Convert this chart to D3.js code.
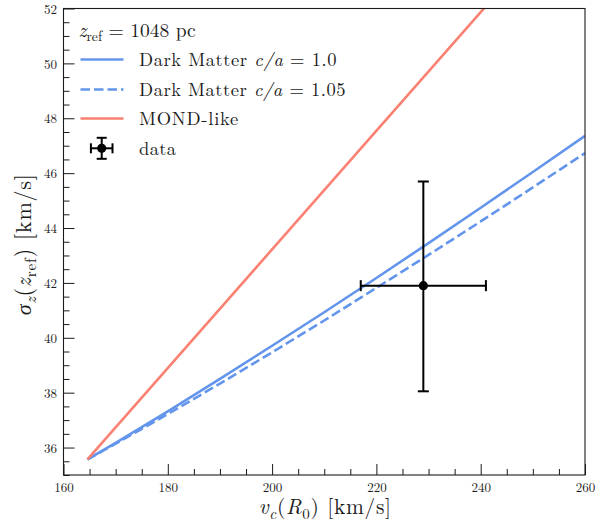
<!DOCTYPE html>
<html><head><meta charset="utf-8">
<script src="https://cdn.jsdelivr.net/npm/d3@7"></script>
<style>
html,body{margin:0;padding:0;background:#fff;}
svg{display:block;}
</style></head>
<body>
<svg id="chart" width="597" height="521"></svg>
<script>
// ---- data ----
const vc = [164.6, 170, 180, 190, 200, 210, 220, 230, 240, 250, 260];
const dmSolid = [35.57, 36.17, 37.32, 38.50, 39.71, 40.93, 42.18, 43.45, 44.74, 46.04, 47.36];
const dmDashed = [35.57, 36.14, 37.22, 38.33, 39.47, 40.63, 41.82, 43.02, 44.24, 45.48, 46.73];
const mondV = [164.6, 260];
const mondS = [35.57, 56.19];
const dataPoint = {v: 229.0, s: 41.9, vErr: 12.0, sErrLo: 3.85, sErrHi: 3.8};
const xTicks = [160, 180, 200, 220, 240, 260];
const yTicks = [36, 38, 40, 42, 44, 46, 48, 50, 52];
const legendLabels = ["Dark Matter", "Dark Matter", "MOND-like", "data"];

const FONT = "Latin Modern Roman, CMU Serif, Liberation Serif, serif";
const svg = d3.select("#chart");
const L = 63.5, R = 585, T = 8.5, B = 475;
const x = d3.scaleLinear().domain([160, 260]).range([L, R]);
const y = d3.scaleLinear().domain([35, 52]).range([B, T]);

const blue = "#6495ED", red = "#FA8072", ink = "#1a1a1a";

function fitWidth(sel, target) {
  const node = sel.node();
  const w = node.getBBox().width;
  const n = node.getNumberOfChars();
  const ls = (target - w) / n;
  if (Math.abs(ls) < 1.5) sel.attr("letter-spacing", ls.toFixed(3));
}

svg.append("defs").append("clipPath").attr("id", "clip")
  .append("rect").attr("x", L).attr("y", T).attr("width", R - L).attr("height", B - T);

const plot = svg.append("g").attr("clip-path", "url(#clip)");
const line = d3.line().x(d => x(d[0])).y(d => y(d[1]));

plot.append("path").datum(vc.map((v, i) => [v, dmSolid[i]]))
  .attr("d", line).attr("fill", "none").attr("stroke", blue).attr("stroke-width", 2.6);
plot.append("path").datum(vc.map((v, i) => [v, dmDashed[i]]))
  .attr("d", line).attr("fill", "none").attr("stroke", blue).attr("stroke-width", 2.6)
  .attr("stroke-dasharray", "9.5,4");
plot.append("path").datum(mondV.map((v, i) => [v, mondS[i]]))
  .attr("d", line).attr("fill", "none").attr("stroke", red).attr("stroke-width", 2.6);

// data point with error bars
const eg = plot.append("g").attr("stroke", "#000").attr("stroke-width", 2);
const dx = x(dataPoint.v), dy = y(dataPoint.s);
const xl = x(dataPoint.v - dataPoint.vErr), xr = x(dataPoint.v + dataPoint.vErr);
const yt = y(dataPoint.s + dataPoint.sErrHi), yb = y(dataPoint.s - dataPoint.sErrLo);
const cap = 5.5;
eg.append("line").attr("x1", xl).attr("x2", xr).attr("y1", dy).attr("y2", dy);
eg.append("line").attr("x1", dx).attr("x2", dx).attr("y1", yt).attr("y2", yb);
eg.append("line").attr("x1", xl).attr("x2", xl).attr("y1", dy - cap).attr("y2", dy + cap);
eg.append("line").attr("x1", xr).attr("x2", xr).attr("y1", dy - cap).attr("y2", dy + cap);
eg.append("line").attr("x1", dx - cap).attr("x2", dx + cap).attr("y1", yt).attr("y2", yt);
eg.append("line").attr("x1", dx - cap).attr("x2", dx + cap).attr("y1", yb).attr("y2", yb);
plot.append("circle").attr("cx", dx).attr("cy", dy).attr("r", 4.6).attr("fill", "#000");

// axes
const xMinor = d3.range(160, 260.01, 5).filter(v => v % 20 !== 0);
const yMinor = d3.range(35, 52.01, 0.5).filter(v => v % 2 !== 0);

const gx = svg.append("g").attr("transform", `translate(0,${B})`);
gx.call(d3.axisBottom(x).tickValues(xMinor).tickSize(-6).tickFormat(""));
const gx2 = svg.append("g").attr("transform", `translate(0,${B})`);
gx2.call(d3.axisBottom(x).tickValues(xTicks).tickSize(-11).tickPadding(8).tickFormat(d3.format("d")));
const gy = svg.append("g").attr("transform", `translate(${L},0)`);
gy.call(d3.axisLeft(y).tickValues(yMinor).tickSize(-6).tickFormat(""));
const gy2 = svg.append("g").attr("transform", `translate(${L},0)`);
gy2.call(d3.axisLeft(y).tickValues(yTicks).tickSize(-11).tickPadding(7).tickFormat(d3.format("d")));
[gx, gx2, gy, gy2].forEach(g => {
  g.select(".domain").remove();
  g.selectAll(".tick line").attr("stroke", ink);
  g.selectAll(".tick text").attr("font-size", 13).attr("font-family", FONT).attr("fill", ink);
});
gy2.selectAll(".tick text").attr("x", -6.5).attr("dy", "0.36em");

// frame
svg.append("rect").attr("x", L).attr("y", T).attr("width", R - L).attr("height", B - T)
  .attr("fill", "none").attr("stroke", ink).attr("stroke-width", 1.1);

function addParts(t, parts, shift) {
  // parts: [text, italic, sub]
  let inSub = false;
  parts.forEach(p => {
    const s = t.append("tspan").attr("font-family", FONT).text(p[0]);
    if (p[1]) s.attr("font-style", "italic");
    if (p[2]) {
      s.attr("font-size", "0.7em");
      if (!inSub) { s.attr("dy", shift); inSub = true; }
    } else if (inSub) { s.attr("dy", -shift); inSub = false; }
  });
}

// axis labels
const xlab = svg.append("text").attr("x", (L + R) / 2 + 1).attr("y", 514).attr("text-anchor", "middle")
  .attr("font-size", 21.5).attr("font-family", FONT).attr("fill", ink);
addParts(xlab, [["v", true, false], ["c", true, true], ["(", false, false], ["R", true, false], ["0", false, true], [")  [km/s]", false, false]], 4.5);
fitWidth(xlab, 133);

const ylab = svg.append("text").attr("transform", `translate(31,${(T + B) / 2 + 2.5}) rotate(-90)`)
  .attr("text-anchor", "middle").attr("font-size", 22).attr("font-family", FONT).attr("fill", ink);
addParts(ylab, [["σ", true, false], ["z", true, true], ["(", false, false], ["z", true, false], ["ref", false, true], [")  [km/s]", false, false]], 4.5);
fitWidth(ylab, 142);

// legend
const lg = svg.append("g");
const title = lg.append("text").attr("x", 78.5).attr("y", 37).attr("font-size", 19.5)
  .attr("font-family", FONT).attr("fill", ink);
addParts(title, [["z", true, false], ["ref", false, true], [" = 1048 pc", false, false]], 4);
fitWidth(title, 139);

const rows = [
  {y: 59.5, type: "solid", color: blue, w: 198, parts: [[legendLabels[0] + " ", false], ["c/a", true], [" = 1.0", false]]},
  {y: 89.5, type: "dashed", color: blue, w: 207, parts: [[legendLabels[1] + " ", false], ["c/a", true], [" = 1.05", false]]},
  {y: 118.5, type: "solid", color: red, w: 100, parts: [[legendLabels[2], false]]},
  {y: 148.3, type: "data", color: "#000", w: 37.5, parts: [[legendLabels[3], false]]}
];
rows.forEach(r => {
  if (r.type === "data") {
    const g = lg.append("g").attr("stroke", "#000").attr("stroke-width", 2);
    const cx = 101.7, cy = r.y;
    g.append("line").attr("x1", cx - 10.8).attr("x2", cx + 10.8).attr("y1", cy).attr("y2", cy);
    g.append("line").attr("x1", cx).attr("x2", cx).attr("y1", cy - 10.5).attr("y2", cy + 10.5);
    g.append("line").attr("x1", cx - 10.8).attr("x2", cx - 10.8).attr("y1", cy - 5).attr("y2", cy + 5);
    g.append("line").attr("x1", cx + 10.8).attr("x2", cx + 10.8).attr("y1", cy - 5).attr("y2", cy + 5);
    g.append("line").attr("x1", cx - 5).attr("x2", cx + 5).attr("y1", cy - 10.5).attr("y2", cy - 10.5);
    g.append("line").attr("x1", cx - 5).attr("x2", cx + 5).attr("y1", cy + 10.5).attr("y2", cy + 10.5);
    lg.append("circle").attr("cx", cx).attr("cy", cy).attr("r", 4.6).attr("fill", "#000");
  } else {
    const ln = lg.append("line").attr("x1", 80.5).attr("x2", 123.5).attr("y1", r.y).attr("y2", r.y)
      .attr("stroke", r.color).attr("stroke-width", 2.6);
    if (r.type === "dashed") ln.attr("stroke-dasharray", "9.5,4");
  }
  const t = lg.append("text").attr("x", 139).attr("y", r.y + 6.3).attr("font-size", 18.5)
    .attr("font-family", FONT).attr("fill", ink);
  r.parts.forEach(p => {
    const s = t.append("tspan").attr("font-family", FONT).text(p[0]);
    if (p[1]) s.attr("font-style", "italic");
  });
  fitWidth(t, r.w);
});
</script>
</body></html>
